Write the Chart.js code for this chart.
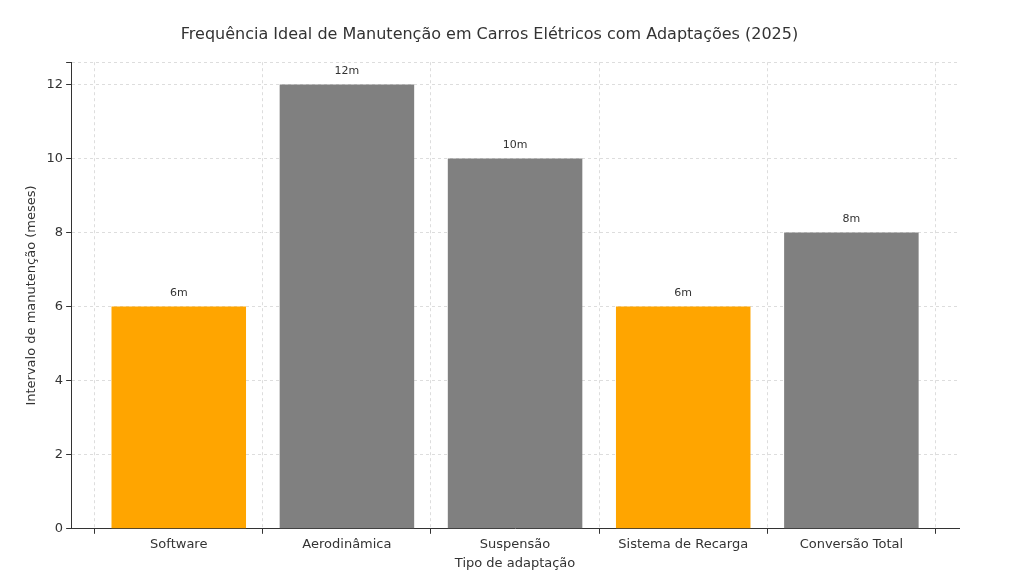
<!DOCTYPE html><html><head><script src="https://cdn.jsdelivr.net/npm/chart.js"></script>
<style>body{margin:0;background:#fff}#w{width:1024px;height:576px}</style></head><body><div id="w"><canvas id="c"></canvas></div>
<script>
const categories=["Software","Aerodinâmica","Suspensão","Sistema de Recarga","Conversão Total"];
const values=[6,12,10,6,8];
const colors=["#FFA500","#808080","#808080","#FFA500","#808080"];
const F="DejaVu Sans";
const lbl={id:'lbl',afterDatasetsDraw(ch){const c=ch.ctx;const m=ch.getDatasetMeta(0);c.save();c.font="11px "+F;c.fillStyle="#333";c.textAlign="center";c.textBaseline="bottom";
m.data.forEach((b,i)=>c.fillText(values[i]+"m",b.x,b.y-8));c.restore();}};
new Chart(document.getElementById('c'),{type:'bar',data:{datasets:[{data:values.map((v,i)=>({x:i,y:v})),backgroundColor:colors,barPercentage:0.8,categoryPercentage:1}]},
options:{responsive:true,maintainAspectRatio:false,animation:false,layout:{padding:{left:20,right:65,top:10,bottom:5}},
plugins:{legend:{display:false},tooltip:{enabled:false},title:{display:true,text:"Frequência Ideal de Manutenção em Carros Elétricos com Adaptações (2025)",font:{family:F,size:16,weight:'normal'},color:'#333',padding:{top:15,bottom:18}}},
scales:{x:{type:'linear',min:-0.64,max:4.64,offset:false,ticks:{stepSize:1,autoSkip:false,callback:v=>categories[v]??'',font:{family:F,size:13},color:'#333'},afterBuildTicks(a){a.ticks=[0,1,2,3,4].map(v=>({value:v}));},
grid:{color:'#ddd',tickColor:'#333',tickLength:5,drawTicks:true},border:{dash:[3,3],color:'#333',display:true},title:{display:true,text:"Tipo de adaptação",font:{family:F,size:13},color:'#333',padding:0}},
y:{min:0,max:12.6,ticks:{stepSize:2,callback:v=>v%2===0?v:'',font:{family:F,size:13},color:'#333'},grid:{color:'#ddd',tickColor:'#333',tickLength:5},border:{dash:[3,3],color:'#333'},title:{display:true,text:"Intervalo de manutenção (meses)",font:{family:F,size:13},color:'#333'}}}},plugins:[lbl]});
</script></body></html>
